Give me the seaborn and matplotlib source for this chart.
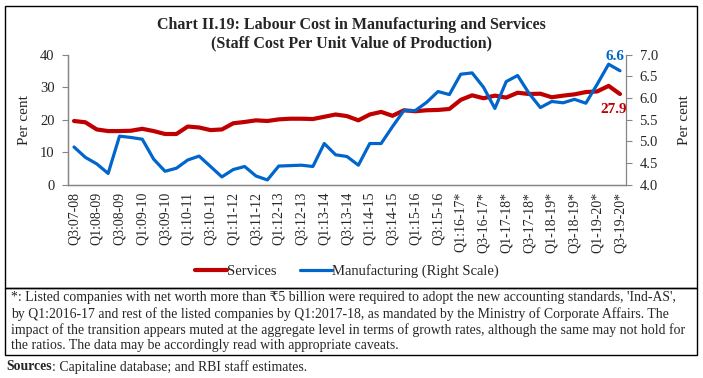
import matplotlib
matplotlib.use("Agg")
import matplotlib.pyplot as plt
import matplotlib.patches as mpatches
from matplotlib.ticker import FixedLocator, FormatStrFormatter
import numpy as np
import pandas as pd
import seaborn as sns

# quarterly series, Q3:2007-08 .. Q3:2019-20
services = [19.6, 19.2, 17.0, 16.5, 16.5, 16.6, 17.2, 16.5, 15.6, 15.6, 17.9, 17.6,
            16.8, 17.0, 18.9, 19.3, 19.8, 19.6, 20.1, 20.3, 20.3, 20.2, 20.9, 21.6,
            21.1, 19.8, 21.6, 22.4, 21.2, 22.9, 22.6, 22.9, 23.0, 23.3, 26.1, 27.5, 26.6,
            27.4, 26.8, 28.3, 27.9, 28.0, 26.9, 27.4, 27.8, 28.5, 28.7, 30.4, 27.9]
manufacturing = [4.87, 4.63, 4.48, 4.26, 5.12, 5.09, 5.05, 4.59, 4.31, 4.38, 4.57, 4.66,
                 4.42, 4.18, 4.35, 4.42, 4.20, 4.11, 4.43, 4.44, 4.45, 4.42, 4.95, 4.69,
                 4.65, 4.45, 4.95, 4.95, 5.34, 5.71, 5.71, 5.90, 6.15, 6.08, 6.55, 6.58, 6.25,
                 5.76, 6.38, 6.52, 6.11, 5.78, 5.92, 5.89, 5.97, 5.88, 6.32, 6.78, 6.63]
tick_labels = ["Q3:07-08", "Q1:08-09", "Q3:08-09", "Q1:09-10", "Q3:09-10", "Q1:10-11",
               "Q3:10-11", "Q1:11-12", "Q3:11-12", "Q1:12-13", "Q3:12-13", "Q1:13-14",
               "Q3:13-14", "Q1:14-15", "Q3:14-15", "Q1:15-16", "Q3:15-16", "Q1:16-17*",
               "Q3-16-17*", "Q1-17-18*", "Q3-17-18*", "Q1-18-19*", "Q3-18-19*",
               "Q1-19-20*", "Q3-19-20*"]

RED = "#C00000"
BLUE = "#0066CC"
GREY = "#868686"

sns.set_style("white")
plt.rcParams["font.family"] = ["Liberation Serif", "DejaVu Serif"]

df = pd.DataFrame({"q": np.arange(len(services)), "services": services,
                   "manufacturing": manufacturing})

fig = plt.figure(figsize=(7.03, 3.78), dpi=100)
ax = fig.add_axes([0.0972, 0.5114, 0.7928, 0.3439])
ax2 = ax.twinx()

sns.lineplot(data=df, x="q", y="services", ax=ax, color=RED, linewidth=3.0,
             label="Services", legend=False)
sns.lineplot(data=df, x="q", y="manufacturing", ax=ax2, color=BLUE, linewidth=2.3,
             label="Manufacturing (Right Scale)", legend=False)

n = len(services)
ax.set_xlim(-0.5, n - 0.5)
ax.set_ylim(0, 40)
ax2.set_ylim(4.0, 7.0)
ax.set_yticks([0, 10, 20, 30, 40])
ax2.set_yticks(np.arange(4.0, 7.01, 0.5))
ax2.yaxis.set_major_formatter(FormatStrFormatter("%.1f"))

ax.set_xticks(np.arange(0, n, 2))
ax.set_xticklabels(tick_labels, rotation=90, fontsize=10)
ax.xaxis.set_minor_locator(FixedLocator(np.arange(-0.5, n, 1)))
ax.tick_params(axis="x", which="major", length=0, pad=5)
ax.tick_params(axis="x", which="minor", length=4, color=GREY, width=0.8)
ax.tick_params(axis="y", length=4, color=GREY, width=0.8, labelsize=10.5, pad=6)
ax2.tick_params(axis="y", length=4, color=GREY, width=0.8, labelsize=10.5, pad=6)

ax.set_xlabel("")
ax.set_ylabel("Per cent", fontsize=11, labelpad=6)
ax2.set_ylabel("Per cent", fontsize=11, labelpad=14)

for a in (ax, ax2):
    a.spines["top"].set_visible(False)
    for s in ("left", "right", "bottom"):
        a.spines[s].set_color(GREY)
        a.spines[s].set_linewidth(0.9)
ax.spines["right"].set_visible(False)

# end-point annotations
ax2.text(n - 1.4, manufacturing[-1] + 0.33, f"{manufacturing[-1]:.1f}", color=BLUE,
         fontsize=11, fontweight="bold", ha="center", va="center")
ax.text(n - 1.6, services[-1] - 4.9, f"{services[-1]:.1f}", color=RED,
        fontsize=11, fontweight="bold", ha="center", va="center")

fig.text(0.5, 0.935, "Chart II.19: Labour Cost in Manufacturing and Services",
         ha="center", va="center", fontsize=11.5, fontweight="bold")
fig.text(0.5, 0.885, "(Staff Cost Per Unit Value of Production)",
         ha="center", va="center", fontsize=11.5, fontweight="bold")

h1, l1 = ax.get_legend_handles_labels()
h2, l2 = ax2.get_legend_handles_labels()
fig.legend(h1 + h2, l1 + l2, loc="center", bbox_to_anchor=(0.494, 0.283), ncol=2,
           frameon=False, fontsize=10.5, handlelength=2.2, handletextpad=0.0,
           columnspacing=1.6)

# frames
fig.add_artist(mpatches.Rectangle((0.007, 0.238), 0.985, 0.745, transform=fig.transFigure,
                                  fill=False, edgecolor="black", linewidth=1.0))
fig.add_artist(mpatches.Rectangle((0.007, 0.060), 0.985, 0.178, transform=fig.transFigure,
                                  fill=False, edgecolor="black", linewidth=1.0))

notes = [
    "*: Listed companies with net worth more than \u20b95 billion were required to adopt the new accounting standards, 'Ind-AS',",
    "by Q1:2016-17 and rest of the listed companies by Q1:2017-18, as mandated by the Ministry of Corporate Affairs. The",
    "impact of the transition appears muted at the aggregate level in terms of growth rates, although the same may not hold for",
    "the ratios. The data may be accordingly read with appropriate caveats.",
]
for i, line in enumerate(notes):
    fig.text(0.016, 0.212 - i * 0.042, line, ha="left", va="center", fontsize=9.9)

src = fig.text(0.009, 0.030, "Sources", ha="left", va="center", fontsize=9.9,
               fontweight="bold")
fig.canvas.draw()
bb = src.get_window_extent().transformed(fig.transFigure.inverted())
fig.text(bb.x1, 0.030, ": Capitaline database; and RBI staff estimates.", ha="left",
         va="center", fontsize=9.9)

fig.savefig("out.png", dpi=100)
